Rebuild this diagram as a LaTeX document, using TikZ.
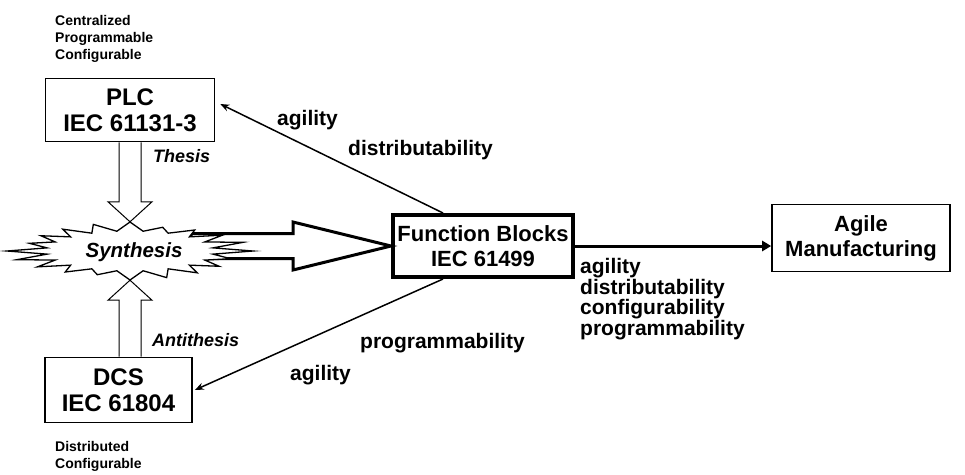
\documentclass[tikz,border=0pt]{standalone}
\usepackage{fontspec}
\setmainfont{Liberation Sans}
\usetikzlibrary{arrows.meta,calc}
\begin{document}
\begin{tikzpicture}[x=1pt,y=-1pt,
  box/.style={draw, line width=1.6, align=center, inner sep=0,
    font=\bfseries\fontsize{22}{25}\selectfont},
  bigbox/.style={box, font=\bfseries\fontsize{24}{26}\selectfont},
  lbl/.style={anchor=west, inner sep=0, font=\bfseries\fontsize{21}{22}\selectfont},
  ital/.style={anchor=west, inner sep=0, font=\bfseries\itshape\fontsize{18}{20}\selectfont},
  small/.style={anchor=north west, inner sep=0, align=left, font=\bfseries\fontsize{14}{17}\selectfont},
  hollow/.style={draw, fill=white, line width=1},
  bigarrow/.style={draw, fill=white, line width=3, line join=miter},
  link/.style={line width=1.5, -{Stealth[length=9pt,width=7pt]}},
  thick link/.style={line width=3, -{Triangle[length=9pt,width=10pt]}}
]
\useasboundingbox (0,0) rectangle (965,474);

% boxes
\node[bigbox, minimum width=169, minimum height=63] (plc) at (130,110) {PLC\\IEC 61131-3};
\node[bigbox, minimum width=147, minimum height=65] (dcs) at (118.5,390) {DCS\\IEC 61804};
\node[box, line width=4, minimum width=180, minimum height=62] (fb) at (483,246) {Function Blocks\\IEC 61499};
\node[box, minimum width=178, minimum height=67] (am) at (861,238) {Agile\\Manufacturing};

% synthesis anchor node
\node[inner sep=0, minimum width=246, minimum height=58] (syn) at (130,251) {};

% big hollow arrow synthesis -> function blocks
\draw[bigarrow] ($(fb.west)+(-200,-12.5)$) -- ($(fb.west)+(-98,-12.5)$) -- ($(fb.west)+(-98,-24)$)
  -- (fb.west) -- ($(fb.west)+(-98,24)$) -- ($(fb.west)+(-98,12.5)$) -- ($(fb.west)+(-200,12.5)$) -- cycle;

% starburst
\draw[fill=white, line width=1.3, line join=miter, miter limit=20]
  (syn.center) ++(123,0)
  \foreach \k [evaluate=\k as \f using {1-0.07*mod(\k*7,5)/2},
               evaluate=\k as \rx using {mod(\k,2)==0 ? 123*\f : 84},
               evaluate=\k as \ry using {mod(\k,2)==0 ? 29*\f : 20}] in {1,...,39}
  { -- ($(syn.center)+({\rx*cos(\k*9)},{\ry*sin(\k*9)})$) } -- cycle;
\node[ital, anchor=center, font=\bfseries\itshape\fontsize{20.5}{22}\selectfont] (syntext) at ($(syn.center)+(4,1)$) {Synthesis};

% hollow vertical arrows
\draw[hollow] ($(plc.south)+(-11,0)$) -- ($(syn.north)+(-11,-20)$) -- ($(syn.north)+(-22,-20)$)
  -- (syn.north) -- ($(syn.north)+(22,-20)$) -- ($(syn.north)+(11,-20)$) -- ($(plc.south)+(11,0)$);
\coordinate (dtop) at (dcs.north -| syn.south);
\draw[hollow] ($(dtop)+(-11,0)$) -- ($(syn.south)+(-11,20)$) -- ($(syn.south)+(-22,20)$)
  -- (syn.south) -- ($(syn.south)+(22,20)$) -- ($(syn.south)+(11,20)$) -- ($(dtop)+(11,0)$);

% connectors
\coordinate (fbtop) at ($(fb.north west)+(52,0)$);
\coordinate (fbbot) at ($(fb.south west)+(52,0)$);
\draw[link] (fbtop) -- ($(plc.east)+(5,-6)$);
\draw[link] (fbbot) -- ($(dcs.east)+(2,0)$);
\draw[thick link] (fb.east) -- (fb.east -| am.west);

% labels
\node[lbl] (l1) at (277,120) {agility};
\node[lbl] (l2) at (348,150) {distributability};
\node[lbl] (l3) at (360,343) {programmability};
\node[lbl] (l4) at (290,375) {agility};
\node[lbl, anchor=north west, align=left, font=\bfseries\fontsize{21}{19}\selectfont] (l5) at (580,258)
  {agility\\distributability\\configurability\\programmability};
\node[ital] (th) at (153,156) {Thesis};
\node[ital] (anti) at (152,340) {Antithesis};
\node[small] (top) at (55,15) {Centralized\\Programmable\\Configurable};
\node[small] (bot) at (55,441) {Distributed\\Configurable};
\end{tikzpicture}
\end{document}
